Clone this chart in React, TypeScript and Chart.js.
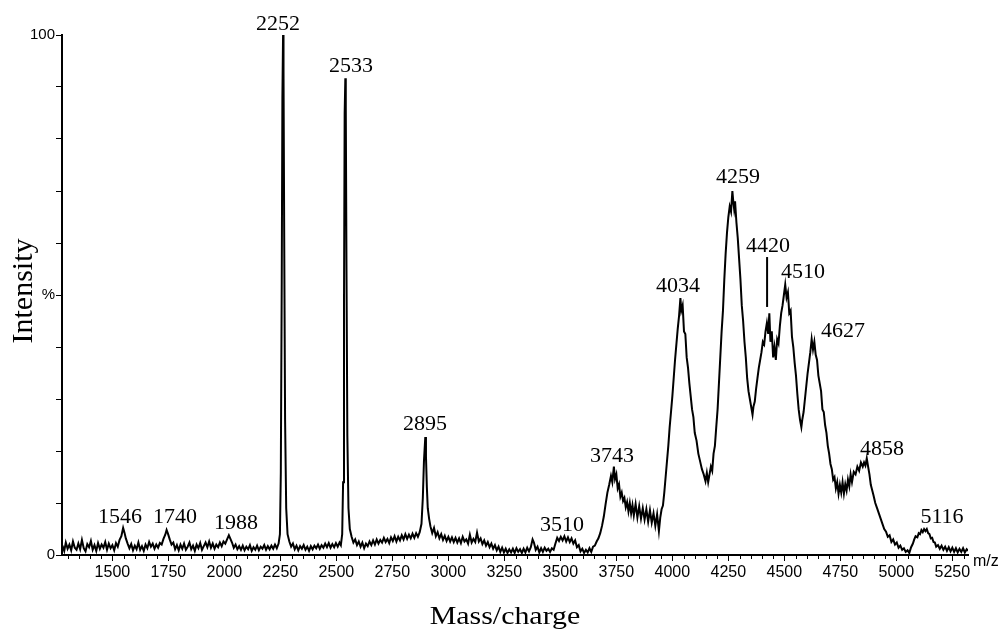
import React, { useEffect, useRef } from 'react';
import { Chart, registerables } from 'chart.js';

Chart.register(...registerables);

// ---- spectrum data: [m/z, relative intensity %] ----
const lowMassRegion: [number, number][] = [
  [1277, 1.8], [1285, 0.8], [1292, 2.4], [1300, 1.2], [1308, 2.0], [1316, 0.9], [1324, 2.6], [1332, 1.4],
  [1340, 1.0], [1348, 2.2], [1356, 1.1], [1364, 2.9], [1372, 1.3], [1380, 0.7], [1388, 2.1], [1396, 1.5],
  [1404, 2.7], [1412, 1.0], [1420, 1.9], [1428, 0.8], [1436, 2.3], [1444, 1.2], [1452, 2.0], [1460, 1.4],
  [1468, 2.5], [1476, 1.0], [1484, 2.2], [1492, 1.3], [1500, 1.9], [1508, 0.9], [1516, 2.3], [1524, 1.6],
  [1532, 2.9], [1540, 3.6], [1548, 5.2], [1554, 4.3], [1560, 3.2], [1568, 2.2], [1576, 1.3], [1584, 2.1],
  [1592, 0.9], [1600, 1.8], [1608, 1.1], [1616, 2.4], [1624, 1.0], [1632, 1.7], [1640, 0.8], [1648, 2.0],
  [1656, 1.3], [1664, 2.5], [1672, 1.6], [1680, 2.2], [1688, 1.2], [1696, 2.0], [1704, 1.4], [1712, 2.3],
  [1720, 2.0], [1728, 3.1], [1736, 3.9], [1742, 4.8], [1748, 4.1], [1756, 3.0], [1764, 2.0], [1772, 2.4],
  [1780, 1.1], [1788, 1.9], [1796, 0.9], [1804, 2.0], [1812, 1.2], [1820, 2.2], [1828, 1.0], [1836, 1.6],
  [1844, 2.4], [1852, 1.1], [1860, 1.8], [1868, 0.8], [1876, 2.0], [1884, 1.3], [1892, 2.3], [1900, 1.0],
  [1908, 1.7], [1916, 2.4], [1924, 1.5], [1932, 2.6], [1940, 1.4], [1948, 2.2], [1956, 1.2], [1964, 2.0],
  [1972, 1.5], [1980, 2.4], [1988, 1.7], [1996, 2.6], [2004, 2.2], [2012, 3.0], [2020, 3.8], [2026, 3.2],
  [2034, 2.4], [2042, 1.4], [2050, 2.0], [2058, 1.1], [2066, 1.7], [2074, 1.0], [2082, 1.8], [2090, 0.9],
  [2098, 1.6], [2106, 1.1], [2114, 1.9], [2122, 0.8], [2130, 1.5], [2138, 1.0], [2146, 1.8], [2154, 0.9],
  [2162, 1.6], [2170, 1.2], [2178, 1.9], [2186, 1.0], [2194, 1.7], [2202, 1.1], [2210, 1.8], [2218, 1.2],
  [2226, 2.0], [2234, 1.3], [2242, 2.2],
];

const peak2252Region: [number, number][] = [
  [2248, 4], [2252, 16], [2256, 52], [2259, 88], [2262, 100], [2264, 93], [2267, 62], [2271, 26],
  [2276, 9], [2282, 4], [2290, 2.6], [2298, 1.6], [2306, 2.2], [2314, 1.1], [2322, 1.8], [2330, 0.9],
  [2338, 1.7], [2346, 1.2], [2354, 1.9], [2362, 1.0], [2370, 1.6], [2378, 0.8], [2386, 1.7], [2394, 1.1],
  [2402, 1.8], [2410, 1.3], [2418, 2.0], [2426, 1.2], [2434, 1.9], [2442, 1.4], [2450, 2.2], [2458, 1.5],
  [2466, 2.3], [2474, 1.4], [2482, 2.1], [2490, 1.5], [2498, 2.3], [2506, 1.6], [2514, 2.4], [2520, 1.9],
  [2526, 4],
];

const peak2533Region: [number, number][] = [
  [2530, 14], [2534, 48], [2537, 85], [2540, 91.7], [2542, 86], [2545, 56], [2549, 23], [2554, 9],
  [2560, 5], [2568, 3.5], [2576, 2.4], [2584, 3.0], [2592, 1.9], [2600, 2.6], [2608, 1.6], [2616, 2.4],
  [2624, 1.3], [2632, 2.2], [2640, 1.7], [2648, 2.6], [2656, 1.9], [2664, 2.8], [2672, 2.0], [2680, 3.0],
  [2688, 2.2], [2696, 2.9], [2704, 2.4], [2712, 3.3], [2720, 2.5], [2728, 3.1], [2736, 2.3], [2744, 3.4],
  [2752, 2.7], [2760, 3.6], [2768, 2.6], [2776, 3.5], [2784, 2.8], [2792, 3.8], [2800, 3.0], [2808, 4.0],
  [2816, 3.1], [2824, 3.9], [2832, 3.2], [2840, 4.1], [2848, 3.3], [2856, 4.2], [2864, 3.5], [2872, 4.4],
  [2880, 6],
];

const peak2895Region: [number, number][] = [
  [2886, 11], [2891, 18], [2897, 22.7], [2900, 19], [2904, 13], [2908, 9], [2914, 7], [2920, 5.5],
  [2928, 4.2], [2936, 5.2], [2944, 3.6], [2952, 4.4], [2960, 3.2], [2968, 4.0], [2976, 2.9], [2984, 3.7],
  [2992, 2.7], [3000, 3.5], [3008, 2.6], [3016, 3.4], [3024, 2.5], [3032, 3.3], [3040, 2.4], [3048, 3.2],
  [3056, 2.3], [3064, 3.5], [3072, 2.6], [3080, 3.0], [3088, 2.2], [3096, 3.9], [3104, 2.4], [3112, 3.1],
  [3120, 2.5], [3128, 4.3], [3136, 2.6], [3144, 3.2], [3152, 2.1], [3160, 2.8], [3168, 1.8], [3176, 2.5],
  [3184, 1.5], [3192, 2.2], [3200, 1.2], [3208, 1.9], [3216, 0.9], [3224, 1.6], [3232, 0.6], [3240, 1.4],
];

const midMassRegion: [number, number][] = [
  [3248, 0.5], [3256, 1.2], [3264, 0.4], [3272, 1.1], [3280, 0.5], [3288, 1.2], [3296, 0.4], [3304, 1.3],
  [3312, 0.6], [3320, 1.1], [3328, 0.4], [3336, 1.2], [3344, 0.5], [3352, 1.4], [3360, 0.7], [3368, 1.5],
  [3376, 3.0], [3382, 2.4], [3390, 1.0], [3398, 1.6], [3406, 0.5], [3414, 1.3], [3422, 0.6], [3430, 1.4],
  [3438, 0.8], [3446, 1.2], [3454, 0.6], [3462, 1.3], [3470, 1.0], [3478, 2.2], [3486, 3.3], [3494, 2.7],
  [3502, 3.5], [3510, 2.8], [3518, 3.6], [3526, 2.6], [3534, 3.4], [3542, 2.5], [3550, 3.2], [3558, 2.2],
  [3566, 2.8], [3574, 1.5], [3582, 1.9], [3590, 0.7], [3598, 1.2], [3606, 0.4], [3614, 1.0], [3622, 0.5],
  [3630, 1.3], [3638, 0.6], [3646, 1.6], [3654, 1.8], [3662, 2.6], [3670, 3.2], [3678, 4.2], [3686, 5.6],
  [3694, 7.4], [3702, 9.8], [3710, 12.0], [3718, 13.5], [3726, 15.2], [3732, 14.0], [3739, 17.0], [3744, 14.6],
  [3750, 15.5], [3756, 12.8], [3762, 13.6], [3768, 11.2], [3774, 12.0], [3780, 10.4], [3786, 11.0], [3792, 9.2],
  [3798, 10.2], [3804, 8.4], [3810, 10.0], [3816, 8.0], [3822, 9.6], [3828, 7.6], [3836, 9.8], [3844, 7.2],
  [3852, 9.4], [3860, 7.0], [3868, 9.0], [3876, 6.8], [3884, 8.8], [3892, 6.4], [3900, 8.6], [3908, 6.2],
  [3916, 8.0], [3924, 5.6], [3932, 7.8], [3940, 4.6], [3946, 7.2], [3952, 8.8],
];

const highMassRegion: [number, number][] = [
  [3958, 9.5], [3964, 12], [3970, 15], [3976, 18], [3982, 21], [3988, 24.6], [3994, 27.5], [4000, 30.5],
  [4006, 34], [4012, 37.5], [4018, 40.5], [4024, 43.5], [4030, 46], [4036, 49.4], [4040, 47], [4046, 48],
  [4052, 43], [4058, 42.5], [4064, 38], [4070, 36], [4076, 33], [4082, 30.5], [4088, 28], [4094, 26.5],
  [4100, 23.5], [4108, 22], [4116, 19.5], [4124, 18], [4132, 16.5], [4140, 15.5], [4148, 14.2], [4154, 15.8],
  [4160, 14.0], [4166, 15.5], [4172, 17.0], [4178, 16.2], [4184, 19.5], [4190, 21], [4196, 24.6], [4202, 28],
  [4208, 33], [4214, 38], [4220, 43], [4226, 47], [4232, 53], [4238, 58], [4244, 62], [4250, 65],
  [4256, 67], [4262, 66], [4268, 70], [4272, 68], [4276, 66.5], [4280, 68], [4286, 64], [4292, 61],
  [4298, 57], [4304, 53], [4310, 48], [4316, 45], [4322, 41], [4328, 38], [4334, 34], [4340, 31.5],
  [4346, 30], [4352, 28.5], [4358, 27], [4362, 28.5], [4368, 29.5], [4374, 32], [4380, 34], [4386, 36],
  [4392, 37.5], [4398, 39], [4404, 41], [4410, 40.5], [4416, 43], [4422, 44.6], [4428, 42.5], [4433, 46.5],
  [4438, 41], [4444, 43], [4450, 38], [4456, 40], [4462, 37.5], [4468, 41.5], [4474, 40.7], [4480, 44],
  [4486, 46.5], [4492, 48], [4498, 50], [4504, 52], [4510, 49.5], [4516, 50.5], [4522, 46.5], [4528, 47],
  [4534, 42], [4540, 40], [4546, 37], [4552, 34.5], [4558, 31], [4564, 28], [4570, 26], [4576, 24.6],
  [4580, 26], [4586, 27.5], [4592, 30], [4598, 32.5], [4604, 35], [4610, 37], [4616, 39], [4622, 41.5],
  [4628, 39.5], [4634, 41], [4640, 38.5], [4646, 37.5], [4652, 34.5], [4658, 33], [4664, 31.5], [4670, 28],
  [4676, 27.5], [4682, 25], [4688, 23.5], [4694, 21], [4700, 19.5], [4706, 17.5], [4712, 16.5], [4718, 14.5],
  [4724, 15], [4730, 12.8], [4736, 14], [4742, 11.8], [4748, 13.5], [4754, 12], [4760, 14], [4766, 11.8],
  [4772, 13.6], [4778, 12.4], [4784, 14.5], [4790, 13.2], [4796, 15.5], [4802, 14], [4810, 16], [4818, 15.5],
  [4826, 17], [4834, 16.2], [4842, 17.8], [4850, 17], [4856, 17.8], [4862, 17.2], [4868, 18.6], [4874, 17],
  [4880, 15.5], [4886, 13.5], [4892, 12.5], [4898, 11.5], [4906, 10], [4914, 9], [4922, 8], [4930, 7],
  [4938, 6], [4946, 5], [4954, 4.5], [4962, 3.5], [4970, 3.8], [4978, 2.5], [4986, 3], [4994, 2],
  [5002, 2.4], [5010, 1.4], [5018, 1.8], [5026, 1.0], [5034, 1.3], [5042, 0.6], [5050, 0.9], [5058, 0.4],
  [5066, 1.5], [5074, 2.2], [5080, 3.0], [5086, 3.6], [5094, 3.4], [5100, 4.2], [5106, 4.0], [5112, 4.8],
  [5118, 4.4], [5124, 5.0], [5130, 4.6], [5136, 5.0], [5142, 4.2], [5148, 4.0], [5154, 3.2], [5160, 3.3],
  [5166, 2.5], [5172, 2.4], [5178, 1.6], [5186, 1.9], [5194, 1.2], [5202, 1.8], [5210, 1.0], [5218, 1.6],
  [5226, 0.8], [5234, 1.5], [5242, 0.7], [5250, 1.4], [5258, 0.6], [5266, 1.3], [5274, 0.5], [5282, 1.2],
  [5290, 0.6], [5298, 1.3], [5306, 0.5], [5314, 1.1], [5320, 0.8],
];

// ---- peak annotations (text, m/z of label centre, intensity of label baseline) ----
const peakLabels = ['1546', '1740', '1988', '2252', '2533', '2895', '3510', '3743', '4034', '4259', '4420', '4510', '4627', '4858', '5116'];
const peakLabelMz = [1534, 1780, 2052, 2239, 2565, 2896, 3507, 3731, 4025, 4293, 4427, 4583, 4762, 4936, 5204];
const peakLabelLevel = [6.15, 6.15, 5.0, 101, 92.9, 24.0, 4.6, 17.9, 50.6, 71.5, 58.3, 53.3, 41.9, 19.2, 6.15];
const markerMz = 4423;
const markerRange = [57.3, 47.7];

// ---- axes ----
const xMin = 1275;
const xMax = 5320;
const xTickValues = [1500, 1750, 2000, 2250, 2500, 2750, 3000, 3250, 3500, 3750, 4000, 4250, 4500, 4750, 5000, 5250];
const xMinorTickValues = [
  1300, 1350, 1400, 1450, 1550, 1600, 1650, 1700, 1800, 1850, 1900, 1950, 2050, 2100, 2150, 2200,
  2300, 2350, 2400, 2450, 2550, 2600, 2650, 2700, 2800, 2850, 2900, 2950, 3050, 3100, 3150, 3200,
  3300, 3350, 3400, 3450, 3550, 3600, 3650, 3700, 3800, 3850, 3900, 3950, 4050, 4100, 4150, 4200,
  4300, 4350, 4400, 4450, 4550, 4600, 4650, 4700, 4800, 4850, 4900, 4950, 5050, 5100, 5150, 5200,
  5300,
];
const yTickValues = [0, 10, 20, 30, 40, 50, 60, 70, 80, 90, 100];
const yTickLabels: Record<number, string> = { 0: '0', 50: '%', 100: '100' };

const spectrum = [
  ...lowMassRegion,
  ...peak2252Region,
  ...peak2533Region,
  ...peak2895Region,
  ...midMassRegion,
  ...highMassRegion,
];

const annotationPlugin = {
  id: 'spectrumAnnotations',
  afterDraw(chart: any) {
    const { ctx, chartArea } = chart;
    const x = chart.scales.x;
    const y = chart.scales.y;
    ctx.save();
    ctx.strokeStyle = '#000';
    ctx.fillStyle = '#000';

    // minor x ticks
    ctx.lineWidth = 1;
    for (const v of xMinorTickValues) {
      const px = Math.round(x.getPixelForValue(v)) + 0.5;
      ctx.beginPath();
      ctx.moveTo(px, chartArea.bottom);
      ctx.lineTo(px, chartArea.bottom + 4);
      ctx.stroke();
    }

    // peak labels
    ctx.font = '22px "Liberation Serif", "Times New Roman", serif';
    ctx.textAlign = 'center';
    ctx.textBaseline = 'alphabetic';
    peakLabels.forEach((t, i) => {
      ctx.fillText(t, x.getPixelForValue(peakLabelMz[i]), y.getPixelForValue(peakLabelLevel[i]));
    });

    // marker line for 4420
    ctx.lineWidth = 2;
    const mx = x.getPixelForValue(markerMz);
    ctx.beginPath();
    ctx.moveTo(mx, y.getPixelForValue(markerRange[0]));
    ctx.lineTo(mx, y.getPixelForValue(markerRange[1]));
    ctx.stroke();

    // m/z unit
    ctx.font = '16px "Liberation Sans", Arial, sans-serif';
    ctx.textAlign = 'left';
    ctx.textBaseline = 'middle';
    ctx.fillText('m/z', chartArea.right + 5, chartArea.bottom + 7);

    // x title
    ctx.save();
    ctx.translate(505, 624);
    ctx.scale(1.15, 1);
    ctx.font = '26px "Liberation Serif", "Times New Roman", serif';
    ctx.textAlign = 'center';
    ctx.textBaseline = 'alphabetic';
    ctx.fillText('Mass/charge', 0, 0);
    ctx.restore();

    // y title
    ctx.save();
    ctx.translate(32, 291);
    ctx.rotate(-Math.PI / 2);
    ctx.font = '30px "Liberation Serif", "Times New Roman", serif';
    ctx.textAlign = 'center';
    ctx.textBaseline = 'alphabetic';
    ctx.fillText('Intensity', 0, 0);
    ctx.restore();

    ctx.restore();
  },
};

export default function App() {
  const canvasRef = useRef<HTMLCanvasElement | null>(null);

  useEffect(() => {
    document.body.style.margin = '0';
    const canvas = canvasRef.current;
    if (!canvas) return;
    const chart = new Chart(canvas, {
      type: 'line',
      data: {
        datasets: [
          {
            data: spectrum.map(([m, v]) => ({ x: m, y: v })),
            borderColor: '#000',
            borderWidth: 2,
            pointRadius: 0,
            tension: 0,
            fill: false,
          },
        ],
      },
      options: {
        animation: false,
        responsive: false,
        maintainAspectRatio: false,
        devicePixelRatio: 1,
        layout: { padding: { top: 35, right: 32, left: 0, bottom: 0 } },
        plugins: { legend: { display: false }, tooltip: { enabled: false } },
        scales: {
          x: {
            type: 'linear',
            min: xMin,
            max: xMax,
            afterFit: (s: any) => { s.height = 77; },
            afterBuildTicks: (s: any) => { s.ticks = xTickValues.map((v) => ({ value: v })); },
            ticks: {
              autoSkip: false,
              maxRotation: 0,
              minRotation: 0,
              padding: 2,
              color: '#000',
              font: { family: '"Liberation Sans", Arial, sans-serif', size: 16 },
              callback: (v: any) => String(v),
            },
            grid: { drawOnChartArea: false, drawTicks: true, tickLength: 6, color: '#000', lineWidth: 1 },
            border: { display: true, color: '#000', width: 2 },
          },
          y: {
            type: 'linear',
            min: 0,
            max: 100,
            afterFit: (s: any) => { s.width = 62; },
            afterBuildTicks: (s: any) => { s.ticks = yTickValues.map((v) => ({ value: v })); },
            ticks: {
              autoSkip: false,
              padding: 1,
              color: '#000',
              font: { family: '"Liberation Sans", Arial, sans-serif', size: 15 },
              callback: (v: any) => yTickLabels[v] ?? '',
            },
            grid: { drawOnChartArea: false, drawTicks: true, tickLength: 6, color: '#000', lineWidth: 1 },
            border: { display: true, color: '#000', width: 2 },
          },
        },
      },
      plugins: [annotationPlugin],
    } as any);
    return () => chart.destroy();
  }, []);

  return (
    <div style={{ width: 1000, height: 632, background: '#fff' }}>
      <canvas ref={canvasRef} width={1000} height={632} style={{ display: 'block' }} />
    </div>
  );
}
